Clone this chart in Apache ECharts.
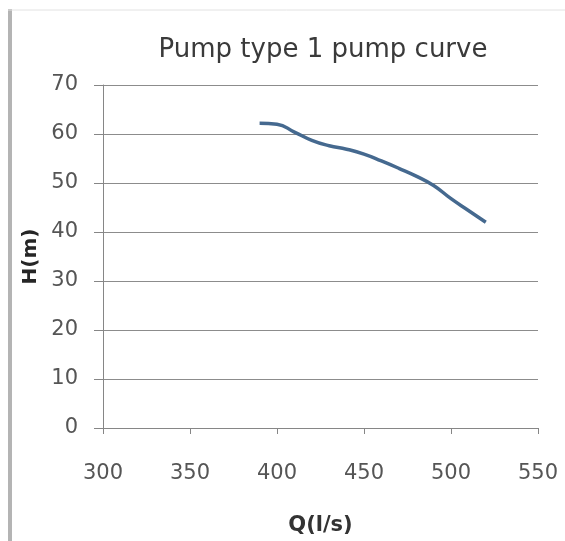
<!DOCTYPE html>
<html>
<head>
<meta charset="utf-8">
<script src="https://cdn.jsdelivr.net/npm/echarts@6/dist/echarts.min.js"></script>
<style>
  html, body { margin: 0; padding: 0; background: #ffffff; }
  #chart { width: 565px; height: 541px; }
</style>
</head>
<body>
<div id="chart"></div>
<script>
// Pump type 1 head–flow curve
const flowQ = [390, 400, 410, 420, 430, 440, 450, 460, 470, 480, 490, 500, 510, 520];
const headH = [62.2, 62.0, 60.4, 58.7, 57.6, 56.9, 55.9, 54.5, 53.0, 51.4, 49.5, 46.8, 44.4, 42.0];
const xTicks = [300, 350, 400, 450, 500, 550];
const yTicks = [0, 10, 20, 30, 40, 50, 60, 70];

const chart = echarts.init(document.getElementById('chart'), null, { renderer: 'canvas' });
const fontFam = '"DejaVu Sans", sans-serif';

chart.setOption({
  animation: false,
  backgroundColor: '#ffffff',
  title: {
    text: 'Pump type 1 pump curve',
    left: 318,
    top: 32,
    textAlign: 'center',
    textStyle: { fontFamily: fontFam, fontSize: 26, fontWeight: 'normal', color: '#3a3a3a' }
  },
  grid: { left: 103, right: 27, top: 85, bottom: 109 },
  xAxis: {
    type: 'value',
    min: xTicks[0],
    max: xTicks[xTicks.length - 1],
    interval: 50,
    name: 'Q(l/s)',
    nameLocation: 'middle',
    nameGap: 87,
    nameTextStyle: { fontFamily: fontFam, fontSize: 21, fontWeight: 'bold', color: '#333333' },
    axisLine: { show: true, lineStyle: { color: '#868686', width: 1 } },
    axisTick: { show: true, length: 6, lineStyle: { color: '#868686' } },
    axisLabel: { margin: 35, fontFamily: fontFam, fontSize: 21, color: '#555555' },
    splitLine: { show: false }
  },
  yAxis: {
    type: 'value',
    min: yTicks[0],
    max: yTicks[yTicks.length - 1],
    interval: 10,
    name: 'H(m)',
    nameLocation: 'middle',
    nameGap: 59,
    nameTextStyle: { fontFamily: fontFam, fontSize: 20, fontWeight: 'bold', color: '#262626' },
    axisLine: { show: true, lineStyle: { color: '#868686', width: 1 } },
    axisTick: { show: true, length: 9, lineStyle: { color: '#868686' } },
    axisLabel: { margin: 25, fontFamily: fontFam, fontSize: 21, color: '#555555' },
    splitLine: { show: true, lineStyle: { color: '#8c8c8c', width: 1 } }
  },
  graphic: [
    { type: 'line', shape: { x1: 10, y1: 9, x2: 10, y2: 541 }, style: { stroke: '#b4b4b4', lineWidth: 4 } },
    { type: 'line', shape: { x1: 8, y1: 10, x2: 565, y2: 10 }, style: { stroke: '#e2e2e2', lineWidth: 1 } }
  ],
  series: [{
    type: 'line',
    data: flowQ.map((q, i) => [q, headH[i]]),
    smooth: true,
    symbol: 'none',
    lineStyle: { color: '#45698f', width: 3.5 }
  }]
});
</script>
</body>
</html>
